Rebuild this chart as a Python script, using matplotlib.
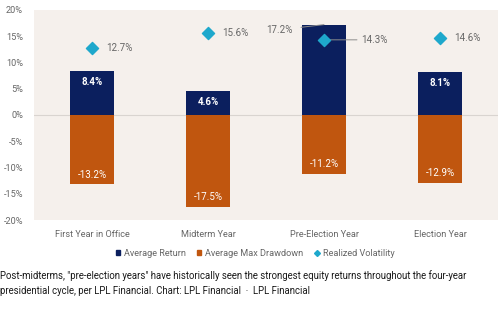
import matplotlib.pyplot as plt
from matplotlib.lines import Line2D
from matplotlib.patches import Patch

categories = ["First Year in Office", "Midterm Year", "Pre-Election Year", "Election Year"]
avg_return = [8.4, 4.6, 17.2, 8.1]
max_drawdown = [-13.2, -17.5, -11.2, -12.9]
volatility = [12.7, 15.6, 14.3, 14.6]
y_ticks = [-20, -15, -10, -5, 0, 5, 10, 15, 20]

navy = "#0b1f5e"
orange = "#c0560f"
teal = "#1ea8cc"
grey = "#666666"
bg = "#f5f0ec"

plt.rcParams['font.family'] = ['Roboto', 'DejaVu Sans']

fig = plt.figure(figsize=(5, 3.09), dpi=100)
ax = fig.add_axes([0.068, 0.288, 0.928, 0.68])
ax.set_facecolor(bg)

x = list(range(len(categories)))
w = 0.38
ax.bar(x, avg_return, width=w, color=navy, zorder=2)
ax.bar(x, max_drawdown, width=w, color=orange, zorder=2)
ax.scatter(x, volatility, marker='D', s=38, color=teal, zorder=4)
ax.axhline(0, color="#d9d4d0", lw=0.8, zorder=1)

for i in x:
    if i == 2:
        ax.annotate(f"{avg_return[i]}%", xy=(i, avg_return[i]), xytext=(i - 0.27, avg_return[i] - 1.0),
                    fontsize=7, color=grey, ha='right', va='center',
                    arrowprops=dict(arrowstyle='-', color='#8c8c8c', lw=0.7, shrinkA=4, shrinkB=0))
        ax.annotate(f"{volatility[i]}%", xy=(i, volatility[i]), xytext=(i + 0.32, volatility[i]),
                    fontsize=7, color=grey, ha='left', va='center',
                    arrowprops=dict(arrowstyle='-', color='#8c8c8c', lw=0.7, shrinkA=1, shrinkB=3))
    else:
        ax.text(i, avg_return[i] - 2.1, f"{avg_return[i]}%", color='white', fontsize=7,
                fontweight='bold', ha='center', va='center', zorder=3)
        ax.text(i + 0.12, volatility[i], f"{volatility[i]}%", fontsize=7, color=grey,
                ha='left', va='center')
    ax.text(i, max_drawdown[i] + 1.8, f"{max_drawdown[i]}%", color='white', fontsize=7,
            ha='center', va='center', zorder=3)

ax.set_xlim(-0.5, 3.5)
ax.set_ylim(-20, 20)
ax.set_yticks(y_ticks)
ax.set_yticklabels([f"{t}%" for t in y_ticks])
ax.set_xticks(x)
ax.set_xticklabels(categories)
ax.tick_params(axis='both', length=0, labelsize=6.6, colors=grey)
ax.tick_params(axis='y', pad=8)
ax.tick_params(axis='x', pad=7)
for s in ax.spines.values():
    s.set_visible(False)

handles = [
    Patch(color=navy, label="Average Return"),
    Patch(color=orange, label="Average Max Drawdown"),
    Line2D([], [], marker='D', color=teal, lw=0, markersize=3, label="Realized Volatility"),
]
fig.legend(handles=handles, loc='center', bbox_to_anchor=(0.51, 0.181), ncol=3, frameon=False,
           fontsize=6.6, labelcolor=grey, handlelength=0.5, handleheight=0.5,
           handletextpad=0.4, columnspacing=1.2)

fig.text(0.0, 0.085, 'Post-midterms, "pre-election years" have historically seen the strongest equity returns throughout the four-year\n'
         'presidential cycle, per LPL Financial. Chart: LPL Financial  ·  LPL Financial',
         fontsize=6.95, color='#1a1a1a', ha='left', va='center', linespacing=1.6)

fig.savefig("out.png", dpi=100)
